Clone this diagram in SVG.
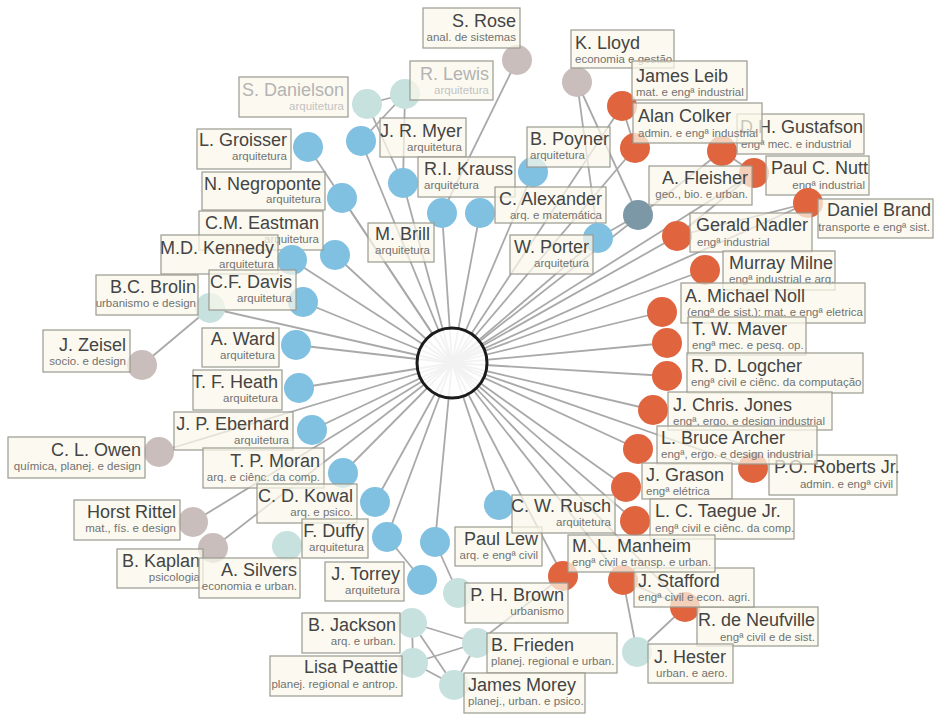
<svg xmlns="http://www.w3.org/2000/svg" width="934" height="715" viewBox="0 0 934 715">
<style>
  .edges line { stroke:#a9a9a9; stroke-width:1.8; fill:none; }
  .node circle { stroke:none; }
  .blue circle { fill:#80c0e1; }
  .orange circle { fill:#e0653f; }
  .gray circle { fill:#c9bebc; }
  .teal circle { fill:#c7e1df; }
  .slate circle { fill:#7c97a6; }
  .node rect { fill:#fbf8ea; fill-opacity:0.72; stroke:#9a9a90; stroke-width:1.2; }
  .node text { font-family:"Liberation Sans", Arial, Helvetica, sans-serif; }
  .nm { font-size:18px; fill:#444444; }
  .sb { font-size:11.5px; fill:#727272; }
  .r { text-anchor:end; }
  .faded .nm { fill:#b3b3b3; }
  .faded .sb { fill:#c2c2c2; }
  #hub circle { fill:#ffffff; fill-opacity:0.85; stroke:#1b1b1b; stroke-width:3; }
</style>
<rect width="934" height="715" fill="#ffffff"/>

<!-- connectors -->
<g id="edges" class="edges">
  <!-- spokes to the central circle -->
  <line x1="361" y1="141" x2="452" y2="363"/>
  <line x1="403" y1="183" x2="452" y2="363"/>
  <line x1="442" y1="213" x2="452" y2="363"/>
  <line x1="480" y1="213" x2="452" y2="363"/>
  <line x1="533" y1="172" x2="452" y2="363"/>
  <line x1="598" y1="238" x2="452" y2="363"/>
  <line x1="308" y1="147" x2="452" y2="363"/>
  <line x1="342" y1="198" x2="452" y2="363"/>
  <line x1="335" y1="255" x2="452" y2="363"/>
  <line x1="292" y1="260" x2="452" y2="363"/>
  <line x1="303" y1="302" x2="452" y2="363"/>
  <line x1="296" y1="345" x2="452" y2="363"/>
  <line x1="299" y1="388" x2="452" y2="363"/>
  <line x1="312" y1="430" x2="452" y2="363"/>
  <line x1="343" y1="473" x2="452" y2="363"/>
  <line x1="375" y1="502" x2="452" y2="363"/>
  <line x1="387" y1="537" x2="452" y2="363"/>
  <line x1="435" y1="542" x2="452" y2="363"/>
  <line x1="499" y1="505" x2="452" y2="363"/>
  <line x1="622" y1="106" x2="452" y2="363"/>
  <line x1="635" y1="148" x2="452" y2="363"/>
  <line x1="722" y1="151" x2="452" y2="363"/>
  <line x1="754" y1="173" x2="452" y2="363"/>
  <line x1="808" y1="203" x2="452" y2="363"/>
  <line x1="677" y1="236" x2="452" y2="363"/>
  <line x1="705" y1="270" x2="452" y2="363"/>
  <line x1="662" y1="312" x2="452" y2="363"/>
  <line x1="667" y1="343" x2="452" y2="363"/>
  <line x1="667" y1="376" x2="452" y2="363"/>
  <line x1="653" y1="410" x2="452" y2="363"/>
  <line x1="638" y1="449" x2="452" y2="363"/>
  <line x1="753" y1="468" x2="452" y2="363"/>
  <line x1="626" y1="487" x2="452" y2="363"/>
  <line x1="635" y1="521" x2="452" y2="363"/>
  <line x1="563" y1="576" x2="452" y2="363"/>
  <line x1="623" y1="580" x2="452" y2="363"/>
  <line x1="685" y1="607" x2="452" y2="363"/>
  <line x1="210" y1="308" x2="452" y2="363"/>
  <line x1="159" y1="452" x2="452" y2="363"/>
  <line x1="193" y1="522" x2="452" y2="363"/>
  <line x1="213" y1="548" x2="452" y2="363"/>
  <!-- links between outer nodes -->
  <line x1="517" y1="60" x2="442" y2="213"/>
  <line x1="367" y1="104" x2="405" y2="94"/>
  <line x1="367" y1="104" x2="403" y2="183"/>
  <line x1="405" y1="94" x2="403" y2="183"/>
  <line x1="405" y1="94" x2="361" y2="141"/>
  <line x1="577" y1="82" x2="598" y2="238"/>
  <line x1="577" y1="82" x2="638" y2="215"/>
  <line x1="638" y1="215" x2="598" y2="238"/>
  <line x1="622" y1="106" x2="635" y2="148"/>
  <line x1="722" y1="151" x2="754" y2="173"/>
  <line x1="677" y1="236" x2="808" y2="203"/>
  <line x1="677" y1="236" x2="754" y2="173"/>
  <line x1="142" y1="365" x2="210" y2="308"/>
  <line x1="387" y1="537" x2="422" y2="580"/>
  <line x1="435" y1="542" x2="458" y2="593"/>
  <line x1="412" y1="623" x2="477" y2="643"/>
  <line x1="412" y1="623" x2="413" y2="663"/>
  <line x1="412" y1="623" x2="454" y2="685"/>
  <line x1="413" y1="663" x2="477" y2="643"/>
  <line x1="413" y1="663" x2="454" y2="685"/>
  <line x1="477" y1="643" x2="454" y2="685"/>
  <line x1="477" y1="643" x2="563" y2="576"/>
  <line x1="623" y1="580" x2="637" y2="652"/>
  <line x1="685" y1="607" x2="637" y2="652"/>
  <line x1="623" y1="580" x2="685" y2="607"/>
</g>

<g id="hub" class="node"><circle cx="452" cy="363" r="35"/></g>

<g id="n-srose" class="node gray"><circle cx="517" cy="60" r="15"/><rect x="423" y="8" width="97" height="40"/><text class="nm r" x="516" y="27">S. Rose</text><text class="sb r" x="516" y="41">anal. de sistemas</text></g>
<g id="n-klloyd" class="node gray"><circle cx="577" cy="82" r="15"/><rect x="571" y="30" width="103" height="38"/><text class="nm" x="575" y="49">K. Lloyd</text><text class="sb" x="575" y="63">economia e gestão</text></g>
<g id="n-danielson" class="node teal faded"><circle cx="367" cy="104" r="15"/><rect x="239" y="77" width="109" height="40"/><text class="nm r" x="344" y="96">S. Danielson</text><text class="sb r" x="344" y="110">arquitetura</text></g>
<g id="n-lewis" class="node teal faded"><circle cx="405" cy="94" r="15"/><rect x="410" y="61" width="83" height="39"/><text class="nm r" x="489" y="80">R. Lewis</text><text class="sb r" x="489" y="94">arquitetura</text></g>
<g id="n-myer" class="node blue"><circle cx="361" cy="141" r="15"/><rect x="380" y="118" width="86" height="39"/><text class="nm r" x="462" y="137">J. R. Myer</text><text class="sb r" x="462" y="151">arquitetura</text></g>
<g id="n-krauss" class="node blue"><circle cx="403" cy="183" r="15"/><rect x="418" y="157" width="97" height="40"/><text class="nm" x="424" y="175">R.I. Krauss</text><text class="sb" x="424" y="189">arquitetura</text></g>
<g id="n-poyner" class="node blue"><circle cx="533" cy="172" r="15"/><rect x="527" y="127" width="83" height="40"/><text class="nm" x="530" y="145">B. Poyner</text><text class="sb" x="530" y="159">arquitetura</text></g>
<g id="n-alexander" class="node blue"><circle cx="480" cy="213" r="15"/><rect x="495" y="187" width="111" height="36"/><text class="nm r" x="602" y="205">C. Alexander</text><text class="sb r" x="602" y="219">arq. e matemática</text></g>
<g id="n-brill" class="node blue"><circle cx="442" cy="213" r="15"/><rect x="368" y="223" width="66" height="39"/><text class="nm r" x="430" y="240">M. Brill</text><text class="sb r" x="430" y="254">arquitetura</text></g>
<g id="n-porter" class="node blue"><circle cx="598" cy="238" r="15"/><rect x="510" y="235" width="83" height="39"/><text class="nm r" x="589" y="253">W. Porter</text><text class="sb r" x="589" y="267">arquitetura</text></g>
<g id="n-groisser" class="node blue"><circle cx="308" cy="147" r="15"/><rect x="197" y="129" width="94" height="40"/><text class="nm r" x="287" y="146">L. Groisser</text><text class="sb r" x="287" y="160">arquitetura</text></g>
<g id="n-negroponte" class="node blue"><circle cx="342" cy="198" r="15"/><rect x="202" y="172" width="123" height="38"/><text class="nm r" x="321" y="190">N. Negroponte</text><text class="sb r" x="321" y="203">arquitetura</text></g>
<g id="n-eastman" class="node blue"><circle cx="335" cy="255" r="15"/><rect x="199" y="211" width="124" height="39"/><text class="nm r" x="319" y="229">C.M. Eastman</text><text class="sb r" x="319" y="243">arquitetura</text></g>
<g id="n-kennedy" class="node blue"><circle cx="292" cy="260" r="15"/><rect x="161" y="235" width="117" height="39"/><text class="nm r" x="274" y="254">M.D. Kennedy</text><text class="sb r" x="274" y="268">arquitetura</text></g>
<g id="n-brolin" class="node teal"><circle cx="210" cy="308" r="15"/><rect x="96" y="275" width="102" height="40"/><text class="nm r" x="196" y="293">B.C. Brolin</text><text class="sb r" x="196" y="307">urbanismo e design</text></g>
<g id="n-davis" class="node blue"><circle cx="303" cy="302" r="15"/><rect x="209" y="270" width="87" height="40"/><text class="nm r" x="292" y="288">C.F. Davis</text><text class="sb r" x="292" y="302">arquitetura</text></g>
<g id="n-zeisel" class="node gray"><circle cx="142" cy="365" r="15"/><rect x="43" y="330" width="87" height="42"/><text class="nm r" x="126" y="351">J. Zeisel</text><text class="sb r" x="126" y="365">socio. e design</text></g>
<g id="n-ward" class="node blue"><circle cx="296" cy="345" r="15"/><rect x="202" y="328" width="77" height="39"/><text class="nm r" x="275" y="345">A. Ward</text><text class="sb r" x="275" y="359">arquitetura</text></g>
<g id="n-heath" class="node blue"><circle cx="299" cy="388" r="15"/><rect x="193" y="370" width="89" height="40"/><text class="nm r" x="278" y="388">T. F. Heath</text><text class="sb r" x="278" y="402">arquitetura</text></g>
<g id="n-owen" class="node gray"><circle cx="159" cy="452" r="15"/><rect x="8" y="437" width="137" height="41"/><text class="nm r" x="141" y="456">C. L. Owen</text><text class="sb r" x="141" y="470">química, planej. e design</text></g>
<g id="n-eberhard" class="node blue"><circle cx="312" cy="430" r="15"/><rect x="174" y="412" width="119" height="38"/><text class="nm r" x="289" y="430">J. P. Eberhard</text><text class="sb r" x="289" y="444">arquitetura</text></g>
<g id="n-moran" class="node blue"><circle cx="343" cy="473" r="15"/><rect x="203" y="448" width="121" height="40"/><text class="nm r" x="320" y="467">T. P. Moran</text><text class="sb r" x="320" y="481">arq. e ciênc. da comp.</text></g>
<g id="n-kowal" class="node blue"><circle cx="375" cy="502" r="15"/><rect x="257" y="484" width="100" height="39"/><text class="nm r" x="353" y="502">C. D. Kowal</text><text class="sb r" x="353" y="516">arq. e psico.</text></g>
<g id="n-rittel" class="node gray"><circle cx="193" cy="522" r="15"/><rect x="74" y="500" width="106" height="40"/><text class="nm r" x="176" y="518">Horst Rittel</text><text class="sb r" x="176" y="532">mat., fís. e design</text></g>
<g id="n-kaplan" class="node gray"><circle cx="213" cy="548" r="15"/><rect x="117" y="549" width="86" height="39"/><text class="nm r" x="200" y="567">B. Kaplan</text><text class="sb r" x="200" y="581">psicologia</text></g>
<g id="n-silvers" class="node teal"><circle cx="287" cy="546" r="15"/><rect x="199" y="558" width="101" height="40"/><text class="nm r" x="297" y="576">A. Silvers</text><text class="sb r" x="297" y="590">economia e urban.</text></g>
<g id="n-duffy" class="node blue"><circle cx="387" cy="537" r="15"/><rect x="302" y="519" width="66" height="39"/><text class="nm r" x="364" y="537">F. Duffy</text><text class="sb r" x="364" y="551">arquitetura</text></g>
<g id="n-torrey" class="node blue"><circle cx="422" cy="580" r="15"/><rect x="325" y="562" width="79" height="39"/><text class="nm r" x="400" y="580">J. Torrey</text><text class="sb r" x="400" y="594">arquitetura</text></g>
<g id="n-paullew" class="node blue"><circle cx="435" cy="542" r="15"/><rect x="455" y="527" width="87" height="39"/><text class="nm r" x="538" y="545">Paul Lew</text><text class="sb r" x="538" y="559">arq. e engª civil</text></g>
<g id="n-rusch" class="node blue"><circle cx="499" cy="505" r="15"/><rect x="512" y="495" width="103" height="38"/><text class="nm r" x="611" y="512">C. W. Rusch</text><text class="sb r" x="611" y="526">arquitetura</text></g>
<g id="n-leib" class="node orange"><circle cx="622" cy="106" r="15"/><rect x="632" y="61" width="115" height="39"/><text class="nm" x="636" y="82">James Leib</text><text class="sb" x="636" y="96">mat. e engª industrial</text></g>
<g id="n-gustafson" class="node orange"><circle cx="722" cy="151" r="15"/><rect x="737" y="114" width="127" height="40"/><text class="nm" x="740" y="133">D.H. Gustafson</text><text class="sb" x="741" y="148">engª mec. e industrial</text></g>
<g id="n-colker" class="node orange"><circle cx="635" cy="148" r="15"/><rect x="633" y="103" width="129" height="40"/><text class="nm" x="638" y="122">Alan Colker</text><text class="sb" x="638" y="137">admin. e engª industrial</text></g>
<g id="n-nutt" class="node orange"><circle cx="754" cy="173" r="15"/><rect x="766" y="156" width="103" height="39"/><text class="nm" x="771" y="174">Paul C. Nutt</text><text class="sb r" x="865" y="189">engª industrial</text></g>
<g id="n-fleisher" class="node slate"><circle cx="638" cy="215" r="15"/><rect x="649" y="166" width="103" height="39"/><text class="nm r" x="748" y="184">A. Fleisher</text><text class="sb r" x="748" y="198">geo., bio. e urban.</text></g>
<g id="n-brand" class="node orange"><circle cx="808" cy="203" r="15"/><rect x="818" y="199" width="115" height="39"/><text class="nm r" x="931" y="216">Daniel Brand</text><text class="sb r" x="930" y="231">transporte e engª sist.</text></g>
<g id="n-nadler" class="node orange"><circle cx="677" cy="236" r="15"/><rect x="690" y="213" width="122" height="39"/><text class="nm" x="696" y="231">Gerald Nadler</text><text class="sb" x="697" y="246">engª industrial</text></g>
<g id="n-milne" class="node orange"><circle cx="705" cy="270" r="15"/><rect x="723" y="251" width="112" height="39"/><text class="nm" x="729" y="269">Murray Milne</text><text class="sb" x="729" y="283">engª industrial e arq.</text></g>
<g id="n-noll" class="node orange"><circle cx="662" cy="312" r="15"/><rect x="681" y="283" width="184" height="40"/><text class="nm" x="685" y="302">A. Michael Noll</text><text class="sb" x="687" y="316">(engª de sist.): mat. e engª eletrica</text></g>
<g id="n-maver" class="node orange"><circle cx="667" cy="343" r="15"/><rect x="688" y="317" width="118" height="38"/><text class="nm" x="692" y="335">T. W. Maver</text><text class="sb" x="692" y="349">engª mec. e pesq. op.</text></g>
<g id="n-logcher" class="node orange"><circle cx="667" cy="376" r="15"/><rect x="687" y="353" width="176" height="40"/><text class="nm" x="691" y="372">R. D. Logcher</text><text class="sb" x="691" y="386">engª civil e ciênc. da computação</text></g>
<g id="n-jones" class="node orange"><circle cx="653" cy="410" r="15"/><rect x="668" y="392" width="164" height="38"/><text class="nm" x="673" y="411">J. Chris. Jones</text><text class="sb" x="673" y="425">engª, ergo. e design industrial</text></g>
<g id="n-roberts" class="node orange"><circle cx="753" cy="468" r="15"/><rect x="769" y="455" width="128" height="40"/><text class="nm" x="774" y="473">P.O. Roberts Jr.</text><text class="sb r" x="893" y="488">admin. e engª civil</text></g>
<g id="n-archer" class="node orange"><circle cx="638" cy="449" r="15"/><rect x="657" y="426" width="160" height="38"/><text class="nm" x="661" y="444">L. Bruce Archer</text><text class="sb" x="661" y="458">engª, ergo. e design industrial</text></g>
<g id="n-grason" class="node orange"><circle cx="626" cy="487" r="15"/><rect x="642" y="463" width="90" height="36"/><text class="nm" x="646" y="481">J. Grason</text><text class="sb" x="646" y="495">engª elétrica</text></g>
<g id="n-taegue" class="node orange"><circle cx="635" cy="521" r="15"/><rect x="650" y="499" width="144" height="40"/><text class="nm" x="655" y="517">L. C. Taegue Jr.</text><text class="sb" x="655" y="532">engª civil e ciênc. da comp.</text></g>
<g id="n-neufville" class="node orange"><circle cx="685" cy="607" r="15"/><rect x="697" y="607" width="121" height="39"/><text class="nm r" x="815" y="626">R. de Neufville</text><text class="sb r" x="815" y="641">engª civil e de sist.</text></g>
<g id="n-stafford" class="node orange"><circle cx="623" cy="580" r="15"/><rect x="634" y="568" width="120" height="39"/><text class="nm" x="638" y="587">J. Stafford</text><text class="sb" x="638" y="601">engª civil e econ. agri.</text></g>
<g id="n-manheim" class="node orange"><circle cx="563" cy="576" r="15"/><rect x="568" y="535" width="147" height="37"/><text class="nm" x="572" y="552">M. L. Manheim</text><text class="sb" x="572" y="566">engª civil e transp. e urban.</text></g>
<g id="n-phbrown" class="node teal"><circle cx="458" cy="593" r="15"/><rect x="465" y="583" width="103" height="40"/><text class="nm r" x="564" y="601">P. H. Brown</text><text class="sb r" x="564" y="615">urbanismo</text></g>
<g id="n-jackson" class="node teal"><circle cx="412" cy="623" r="15"/><rect x="302" y="613" width="98" height="40"/><text class="nm r" x="396" y="631">B. Jackson</text><text class="sb r" x="396" y="645">arq. e urban.</text></g>
<g id="n-peattie" class="node teal"><circle cx="413" cy="663" r="15"/><rect x="270" y="656" width="132" height="40"/><text class="nm r" x="398" y="673">Lisa Peattie</text><text class="sb r" x="398" y="688">planej. regional e antrop.</text></g>
<g id="n-frieden" class="node teal"><circle cx="477" cy="643" r="15"/><rect x="487" y="633" width="130" height="40"/><text class="nm" x="491" y="651">B. Frieden</text><text class="sb" x="491" y="665">planej. regional e urban.</text></g>
<g id="n-morey" class="node teal"><circle cx="454" cy="685" r="15"/><rect x="464" y="673" width="121" height="40"/><text class="nm" x="468" y="691">James Morey</text><text class="sb" x="468" y="705">planej., urban. e psico.</text></g>
<g id="n-hester" class="node teal"><circle cx="637" cy="652" r="15"/><rect x="648" y="644" width="85" height="39"/><text class="nm" x="654" y="663">J. Hester</text><text class="sb" x="656" y="677">urban. e aero.</text></g>
</svg>
